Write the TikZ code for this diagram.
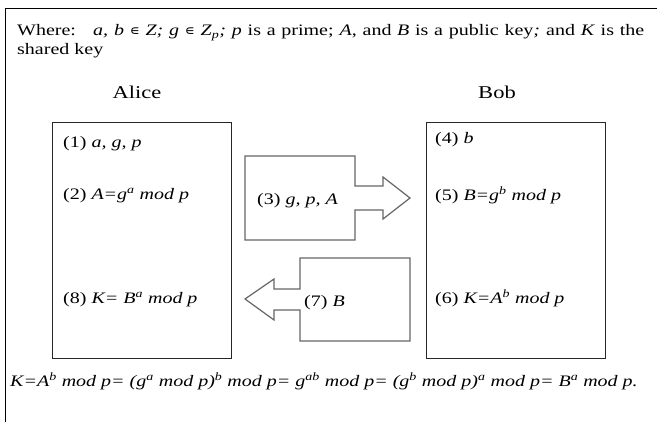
\documentclass[tikz,border=0pt]{standalone}
\usepackage{fontspec}
\setmainfont[FakeStretch=1.25]{Liberation Serif}
\newfontfamily\symfont{DejaVu Sans}
\newcommand\supx[1]{\textsuperscript{\itshape #1}}
\newcommand\elem{{\symfont\fontsize{14}{16}\selectfont ∊}}
\begin{document}
\begin{tikzpicture}[x=1pt,y=-1pt,
  txt/.style={inner sep=0pt, anchor=base west, font=\fontsize{16}{19}\selectfont},
  head/.style={inner sep=0pt, anchor=base, font=\fontsize{18}{22}\selectfont},
  party/.style={draw=black!85, line width=1pt, inner sep=0pt, anchor=north west},
  blockarrow/.style={draw=black!60, line width=1.2pt, line join=miter, fill=white}]
\useasboundingbox (0,0) rectangle (657,422);
% outer frame
\draw[line width=1pt] (5,422) -- (5,9) -- (657,9);
% header text
\node[txt] (where) at (17,36) {\makebox[627pt][s]{Where:\ \ \ \textit{a, b} \elem{} \textit{Z; g} \elem{} \textit{Z\textsubscript{p}; p} is a prime; \textit{A}, and \textit{B} is a public key\textit{;} and \textit{K} is the}};
\node[txt] (shared) at (17,55) {shared key};
\node[head] (alice) at (137,99) {Alice};
\node[head] (bob) at (497,99) {Bob};
% party boxes
\node[party, minimum width=179pt, minimum height=236pt] (abox) at (52,122) {};
\node[party, minimum width=179pt, minimum height=236pt] (bbox) at (426,122) {};
% Alice steps
\node[txt] (s1) at (63,148) {(1) \textit{a, g, p}};
\node[txt] (s2) at (63,200) {(2) \textit{A=g\supx{a} mod p}};
\node[txt] (s8) at (63,304) {(8) \textit{K= B\supx{a} mod p}};
% Bob steps
\node[txt] (s4) at (435,144) {(4) \textit{b}};
\node[txt] (s5) at (435,201) {(5) \textit{B=g\supx{b} mod p}};
\node[txt] (s6) at (435,304) {(6) \textit{K=A\supx{b} mod p}};
% block arrow 3
\draw[blockarrow] (245,156) -- (355,156) -- (355,186) -- (383,186) -- (383,177) -- (410,198)
  -- (383,219) -- (383,210) -- (355,210) -- (355,240) -- (245,240) -- cycle;
\node[txt] (s3) at (257,205) {(3) \textit{g, p, A}};
% block arrow 7
\draw[blockarrow] (410,258) -- (300,258) -- (300,289) -- (274,289) -- (274,279) -- (245,299)
  -- (274,320) -- (274,310) -- (300,310) -- (300,341) -- (410,341) -- cycle;
\node[txt] (s7) at (304,307) {(7) \textit{B}};
% formula
\node[txt] (formula) at (10,387) {\textit{K=A\supx{b} mod p= (g\supx{a} mod p)\supx{b} mod p= g\supx{ab} mod p= (g\supx{b} mod p)\supx{a} mod p= B\supx{a} mod p.}};
\end{tikzpicture}
\end{document}
